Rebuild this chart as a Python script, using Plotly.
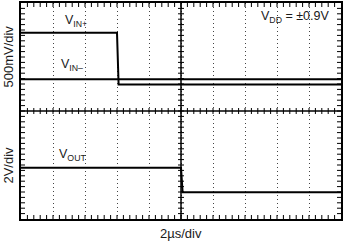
import plotly.graph_objects as go

# ---- data (time in microseconds, voltages in volts) ----
t_vin_plus = [0.0, 6.0, 6.1, 20.0]
vin_plus = [0.86, 0.86, -0.10, -0.10]
t_vin_minus = [0.0, 20.0]
vin_minus = [0.0, 0.0]
t_vout = [0.0, 10.0, 10.1, 20.0]
vout = [0.9, 0.9, -0.9, -0.9]

x_title = "2\u00b5s/div"
y_title_top = "500mV/div"
y_title_bot = "2V/div"

ink = "#1a1a1a"
font = "Liberation Sans, Arial, Helvetica, sans-serif"

fig = go.Figure()
line = dict(color="black", width=2)
fig.add_trace(go.Scatter(x=t_vin_minus, y=vin_minus, mode="lines", line=line, xaxis="x", yaxis="y2"))
fig.add_trace(go.Scatter(x=t_vin_plus, y=vin_plus, mode="lines", line=line, xaxis="x", yaxis="y2"))
fig.add_trace(go.Scatter(x=t_vout, y=vout, mode="lines", line=line, xaxis="x", yaxis="y3"))
fig.add_trace(go.Scatter(x=[0], y=[0], mode="markers", marker=dict(opacity=0), xaxis="x", yaxis="y", hoverinfo="skip"))

grid_dash = "1px,3px"
fig.update_layout(
    width=344, height=242,
    margin=dict(l=21, r=2, t=1, b=23),
    paper_bgcolor="white", plot_bgcolor="white",
    showlegend=False,
    font=dict(family=font, size=12.5, color=ink),
    xaxis=dict(range=[0, 20], dtick=2, showgrid=True, gridcolor="#444", griddash=grid_dash, gridwidth=1,
               zeroline=False, showline=True, linecolor="black", linewidth=2, mirror=True,
               ticks="", showticklabels=False, fixedrange=True),
    yaxis=dict(range=[-4, 4], dtick=1, showgrid=True, gridcolor="#444", griddash=grid_dash, gridwidth=1,
               zeroline=False, showline=True, linecolor="black", linewidth=2, mirror=True,
               ticks="", showticklabels=False, domain=[0, 1], fixedrange=True),
    yaxis2=dict(range=[-0.59, 1.41], domain=[0.5, 1], anchor="x", visible=False, fixedrange=True),
    yaxis3=dict(range=[-2.89, 5.11], domain=[0, 0.5], anchor="x", visible=False, fixedrange=True),
)

# graticule: centre cross-hair and tick marks (decoration)
shapes = []
tl = dict(color="black", width=1)
shapes.append(dict(type="line", xref="x", yref="y", x0=0, x1=20, y0=0, y1=0, line=dict(color="black", width=1.5)))
shapes.append(dict(type="line", xref="x", yref="y", x0=10, x1=10, y0=-4, y1=4, line=dict(color="black", width=1.5)))
for i in range(1, 50):
    xv = i * 0.4
    shapes.append(dict(type="line", xref="x", yref="y", ysizemode="pixel", yanchor=0,
                       x0=xv, x1=xv, y0=-3, y1=3, line=tl))
    shapes.append(dict(type="line", xref="x", yref="y", ysizemode="pixel", yanchor=-4,
                       x0=xv, x1=xv, y0=0, y1=4, line=tl))
    shapes.append(dict(type="line", xref="x", yref="y", ysizemode="pixel", yanchor=4,
                       x0=xv, x1=xv, y0=-4, y1=0, line=tl))
for i in range(1, 40):
    yv = -4 + i * 0.2
    shapes.append(dict(type="line", xref="x", yref="y", xsizemode="pixel", xanchor=10,
                       x0=-3, x1=3, y0=yv, y1=yv, line=tl))
    shapes.append(dict(type="line", xref="x", yref="y", xsizemode="pixel", xanchor=0,
                       x0=0, x1=4, y0=yv, y1=yv, line=tl))
    shapes.append(dict(type="line", xref="x", yref="y", xsizemode="pixel", xanchor=20,
                       x0=-4, x1=0, y0=yv, y1=yv, line=tl))
fig.update_layout(shapes=shapes)

ann = [
    dict(x=2.62, y=3.34, text="V<sub>IN+</sub>", xanchor="left"),
    dict(x=2.37, y=1.70, text="V<sub>IN\u2013</sub>", xanchor="left"),
    dict(x=2.24, y=-1.62, text="V<sub>OUT</sub>", xanchor="left"),
    dict(x=19.38, y=3.49, text="V<sub>DD</sub> = \u00b10.9V", xanchor="right"),
]
for a in ann:
    fig.add_annotation(xref="x", yref="y", showarrow=False, yanchor="middle",
                       font=dict(size=12.5, color=ink), **a)

fig.add_annotation(xref="paper", yref="paper", x=-0.042, y=0.75, text=y_title_top, textangle=-90,
                   showarrow=False, xanchor="center", yanchor="middle", font=dict(size=13, color=ink))
fig.add_annotation(xref="paper", yref="paper", x=-0.042, y=0.25, text=y_title_bot, textangle=-90,
                   showarrow=False, xanchor="center", yanchor="middle", font=dict(size=13, color=ink))
fig.add_annotation(xref="paper", yref="paper", x=0.5, y=-0.066, text=x_title,
                   showarrow=False, xanchor="center", yanchor="middle", font=dict(size=13, color=ink))

fig.write_html("out.html")
